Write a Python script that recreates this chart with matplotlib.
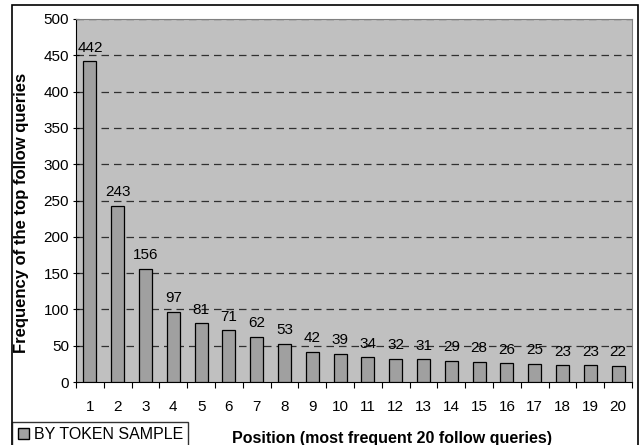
import matplotlib.pyplot as plt
import matplotlib.patches as mpatches

plt.rcParams['font.family'] = ['Liberation Sans', 'DejaVu Sans']

positions = list(range(1, 21))
freq = [442, 243, 156, 97, 81, 71, 62, 53, 42, 39, 34, 32, 31, 29, 28, 26, 25, 23, 23, 22]
series_name = "BY TOKEN SAMPLE"

W, H = 639, 445
fig = plt.figure(figsize=(W / 100, H / 100), dpi=100)
fig.patch.set_facecolor('white')

# chart frame (bottom edge runs past the image)
fig.patches.append(mpatches.Rectangle((12 / W, -0.1), 626 / W, (H - 5) / H + 0.1,
                                      transform=fig.transFigure, fill=False,
                                      edgecolor='black', linewidth=1.2, clip_on=False))

ax = fig.add_axes([76 / W, (H - 382) / H, 556 / W, 363 / H])
ax.set_facecolor('#C0C0C0')

ax.bar(positions, freq, width=0.47, color='#A0A0A0', edgecolor='black', linewidth=0.9, zorder=3)
for x, v in zip(positions, freq):
    ax.text(x, v + 9, str(v), ha='center', va='bottom', fontsize=11, zorder=4)

ax.set_xlim(0.5, 20.5)
ax.set_ylim(0, 500)
ax.set_yticks(range(0, 501, 50))
ax.set_xticks(positions)
ax.set_xticks([p + 0.5 for p in range(0, 21)], minor=True)
ax.tick_params(axis='x', which='major', length=0, pad=13, labelsize=11)
ax.tick_params(axis='x', which='minor', length=4, direction='out', width=0.8)
ax.tick_params(axis='y', length=4, direction='inout', width=0.8, labelsize=11, pad=3)

for y in range(50, 501, 50):
    ax.axhline(y, color='#303030', linestyle=(0, (6, 4)), linewidth=0.9, zorder=1)

ax.spines['top'].set_color('#808080')
ax.spines['right'].set_color('#808080')
ax.spines['left'].set_color('black')
ax.spines['bottom'].set_color('black')

ax.set_xlabel("Position (most frequent 20 follow queries)", fontsize=11.5, fontweight='bold')
ax.set_ylabel("Frequency of the top follow queries", fontsize=12, fontweight='bold')
ax.xaxis.set_label_coords(0.568, -0.135)
ax.yaxis.set_label_coords(-0.085, 0.466)

# legend box at the lower left
handle = mpatches.Patch(facecolor='#A0A0A0', edgecolor='black', label=series_name)
leg = fig.legend(handles=[handle], loc='lower left', bbox_to_anchor=(12 / W, -3 / H),
                 frameon=True, fancybox=False, edgecolor='black', fontsize=11.5,
                 handlelength=0.7, handleheight=0.7, handletextpad=0.3,
                 borderpad=0.35, borderaxespad=0)
leg.get_frame().set_linewidth(1.0)

fig.savefig('out.png', dpi=100)
